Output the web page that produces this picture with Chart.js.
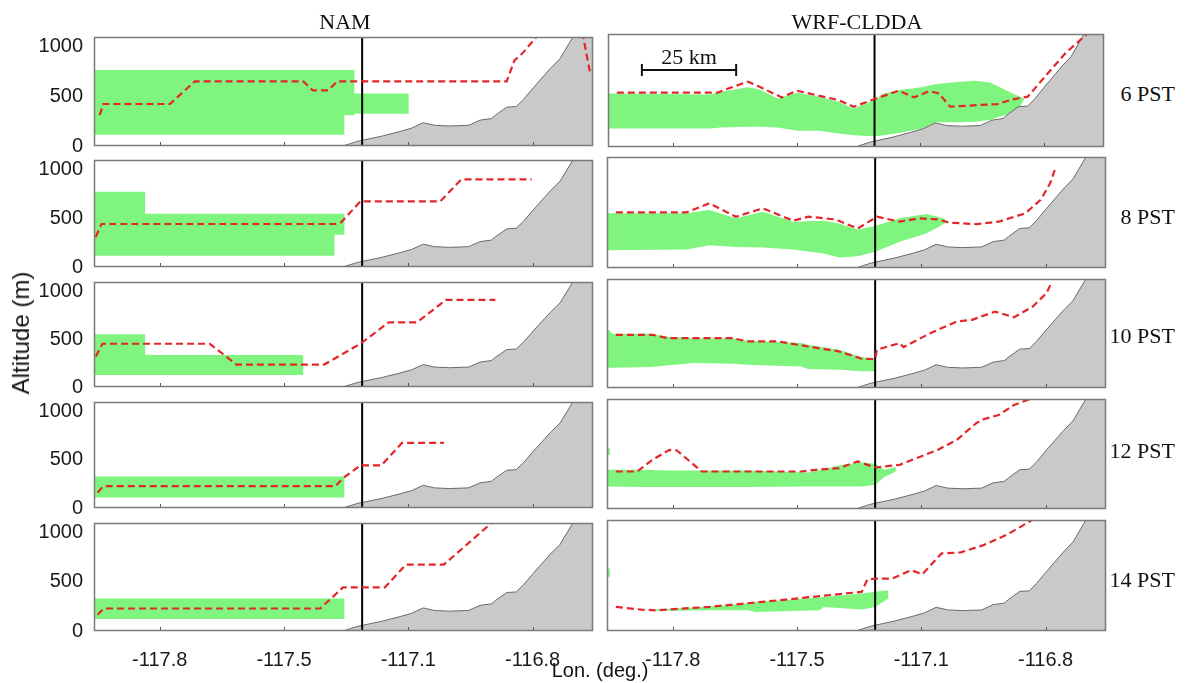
<!DOCTYPE html>
<html><head><meta charset="utf-8">
<script src="https://cdn.jsdelivr.net/npm/chart.js@4.4.0/dist/chart.umd.min.js"></script>
<style>
body{margin:0;background:#fff;width:1193px;height:683px;position:relative;overflow:hidden;font-family:"Liberation Sans",Arial,sans-serif}
canvas{position:absolute}
.lbl{position:absolute;white-space:nowrap;color:#111;line-height:1}
.serif{font-family:"Liberation Serif","Times New Roman",serif;font-size:22px}
</style></head><body>
<script>
// ---------- axes / labels ----------
const xTickValues = [-117.8, -117.45, -117.1, -116.75];
const xTickLabels = ['-117.8', '-117.5', '-117.1', '-116.8'];
const yTickValues = [0, 500, 1000];
const yTickLabels = ['0', '500', '1000'];
const modelNames = ['NAM', 'WRF-CLDDA'];
const timeLabels = ['6 PST', '8 PST', '10 PST', '12 PST', '14 PST'];
const xAxisTitle = 'Lon. (deg.)';
const yAxisTitle = 'Altitude (m)';
const lonRange = [-117.985, -116.58];
const altRange = [0, 1100];
const coastLon = -117.23;
const scaleBarLon = [-117.889, -117.622];
const scaleBarAlt = 750;
const scaleBarLabel = '25 km';

// ---------- terrain (same in all panels) ----------
const terrainLon = [-117.284, -117.262, -117.241, -117.176, -117.123, -117.091, -117.058, -117.026, -116.984, -116.930, -116.898, -116.866, -116.855, -116.823, -116.796, -116.775, -116.748, -116.716, -116.700, -116.673, -116.63, -116.55];
const terrainAlt = [0, 26, 49, 98, 147, 180, 235, 209, 202, 209, 261, 277, 310, 392, 398, 473, 588, 718, 783, 881, 1140, 1140];

// ---------- NAM: inversion-base line (red) ----------
const nam06LineLon = [-117.969, -117.959, -117.771, -117.701, -117.396, -117.369, -117.326, -117.300, -116.823, -116.801, -116.780, -116.737, -116.70, -116.61, -116.588];
const nam06LineAlt = [310, 424, 424, 653, 653, 561, 561, 653, 653, 865, 930, 1110, null, 1150, 734];
const nam08LineLon = [-117.980, -117.964, -117.305, -117.289, -117.235, -117.010, -116.951, -116.753];
const nam08LineAlt = [309, 442, 442, 459, 675, 675, 900, 900];
const nam10LineLon = [-117.980, -117.961, -117.659, -117.584, -117.337, -117.235, -117.155, -117.075, -116.994, -116.855];
const nam10LineAlt = [319, 453, 453, 235, 235, 453, 678, 678, 912, 912];
const nam12LineLon = [-117.975, -117.959, -117.305, -117.284, -117.235, -117.176, -117.118, -117.000];
const nam12LineAlt = [160, 226, 226, 309, 442, 442, 675, 675];
const nam14LineLon = [-117.975, -117.957, -117.348, -117.284, -117.166, -117.107, -117.000, -116.866, -116.85];
const nam14LineAlt = [166, 229, 229, 444, 444, 676, 676, 1100, 1150];

// ---------- NAM: cloud layer (green), step segments ----------
const nam06GreenEdges = [-117.985, -117.280, -117.252, -117.099];
const nam06GreenTop = [767, 767, 529];
const nam06GreenBot = [114, 310, 326];
const nam08GreenEdges = [-117.985, -117.841, -117.308, -117.280];
const nam08GreenTop = [774, 548, 548];
const nam08GreenBot = [116, 116, 332];
const nam10GreenEdges = [-117.985, -117.841, -117.396];
const nam10GreenTop = [553, 335];
const nam10GreenBot = [127, 127];
const nam12GreenEdges = [-117.985, -117.280];
const nam12GreenTop = [326];
const nam12GreenBot = [110];
const nam14GreenEdges = [-117.985, -117.280];
const nam14GreenTop = [331];
const nam14GreenBot = [123];

// ---------- WRF-CLDDA: inversion-base line (red) ----------
const wrf06LineLon = [-117.96, -117.675, -117.643, -117.589, -117.557, -117.493, -117.450, -117.396, -117.332, -117.289, -117.225, -117.161, -117.118, -117.075, -117.048, -117.016, -116.989, -116.882, -116.839, -116.796, -116.743, -116.689, -116.641, -116.625];
const wrf06LineAlt = [529, 529, 571, 636, 588, 483, 548, 506, 457, 392, 473, 548, 483, 545, 522, 392, 398, 418, 463, 490, 702, 914, 1061, 1110];
const wrf08LineLon = [-117.96, -117.761, -117.697, -117.622, -117.546, -117.461, -117.418, -117.343, -117.279, -117.225, -117.161, -117.107, -117.054, -117.021, -116.946, -116.882, -116.807, -116.764, -116.737, -116.721];
const wrf08LineAlt = [552, 552, 641, 508, 591, 469, 508, 482, 392, 508, 459, 492, 482, 449, 435, 459, 542, 675, 841, 1007];
const wrf10LineLon = [-117.96, -117.857, -117.814, -117.632, -117.589, -117.504, -117.418, -117.332, -117.268, -117.230, -117.225, -117.161, -117.150, -117.075, -117.000, -116.957, -116.893, -116.839, -116.786, -116.748, -116.732];
const wrf10LineAlt = [537, 537, 503, 503, 470, 470, 419, 369, 295, 292, 386, 453, 413, 553, 671, 688, 771, 714, 822, 956, 1073];
const wrf12LineLon = [-117.96, -117.900, -117.857, -117.809, -117.788, -117.718, -117.439, -117.397, -117.332, -117.279, -117.230, -117.161, -117.054, -117.000, -116.946, -116.925, -116.882, -116.839, -116.796, -116.775];
const wrf12LineAlt = [375, 375, 492, 591, 585, 375, 375, 392, 409, 475, 415, 442, 591, 691, 857, 897, 940, 1040, 1097, 1156];
const wrf14LineLon = [-117.96, -117.889, -117.847, -117.697, -117.482, -117.268, -117.252, -117.225, -117.182, -117.129, -117.097, -117.043, -116.989, -116.925, -116.861, -116.796, -116.775];
const wrf14LineAlt = [239, 212, 205, 239, 311, 388, 510, 520, 520, 603, 563, 769, 779, 851, 951, 1083, 1133];

// ---------- WRF-CLDDA: cloud layer (green) ----------
const wrf06GreenLon = [-117.985, -117.697, -117.664, -117.589, -117.557, -117.504, -117.450, -117.386, -117.332, -117.289, -117.230, -117.204, -117.161, -117.096, -117.054, -116.989, -116.946, -116.903, -116.882, -116.839, -116.818, -116.807];
const wrf06GreenTop = [522, 512, 539, 581, 561, 473, 529, 490, 441, 375, 457, 522, 555, 581, 614, 636, 646, 627, 594, 522, 490, 473];
const wrf06GreenBot = [180, 180, 189, 196, 196, 189, 157, 157, 131, 114, 104, 114, 137, 180, 240, 240, 245, 262, 290, 330, 390, 457];
const wrf08GreenLon = [-117.985, -117.761, -117.697, -117.622, -117.546, -117.461, -117.375, -117.332, -117.279, -117.230, -117.161, -117.086, -117.054, -117.032];
const wrf08GreenTop = [542, 542, 575, 492, 558, 459, 469, 442, 382, 415, 492, 535, 508, 482];
const wrf08GreenBot = [176, 183, 226, 209, 203, 183, 143, 103, 116, 160, 259, 342, 402, 449];
const wrf10GreenLon = [-117.985, -117.97, -117.857, -117.825, -117.739, -117.632, -117.589, -117.439, -117.418, -117.332, -117.268, -117.227];
const wrf10GreenTop = [604, 548, 548, 520, 503, 503, 476, 453, 436, 386, 312, 292];
const wrf10GreenBot = [201, 205, 211, 225, 252, 245, 235, 218, 191, 184, 168, 168];
const wrf12GreenLon = [-117.985, -117.889, -117.804, -117.589, -117.418, -117.322, -117.268, -117.230, -117.204, -117.172];
const wrf12GreenTop = [392, 392, 385, 385, 366, 442, 465, 452, 392, 419];
const wrf12GreenBot = [226, 219, 219, 219, 226, 226, 226, 243, 319, 375];
const wrf12SpeckLon = [-117.985, -117.977];
const wrf12SpeckTop = [607, 607];
const wrf12SpeckBot = [541, 541];
const wrf14GreenLon = [-117.847, -117.718, -117.589, -117.568, -117.386, -117.375, -117.268, -117.230, -117.193];
const wrf14GreenTop = [212, 239, 272, 288, 331, 338, 371, 388, 404];
const wrf14GreenBot = [199, 205, 205, 189, 205, 239, 212, 239, 321];
const wrf14SpeckLon = [-117.985, -117.977];
const wrf14SpeckTop = [619, 619];
const wrf14SpeckBot = [537, 537];

// ---------- layout ----------
const colPlotLeft = [94, 607];
const colCanvasLeft = [0, 600];
const plotWidth = 499;
const rowPlotTop = [34, 157, 279, 399, 520];
const rowPlotHeight = [113, 111, 109, 110, 111];

const GREEN = '#7ff57f', RED = '#e3262a', TERRAIN = '#c9c9c9';

function linePoints(lon, alt) { return lon.map((x, i) => ({x, y: alt[i]})); }
function stepPolygon(edges, top, bot) {
  const pts = [];
  for (let i = 0; i < top.length; i++) { pts.push({x: edges[i], y: top[i]}, {x: edges[i + 1], y: top[i]}); }
  for (let i = bot.length - 1; i >= 0; i--) { pts.push({x: edges[i + 1], y: bot[i]}, {x: edges[i], y: bot[i]}); }
  pts.push({...pts[0]});
  return pts;
}
function bandPolygon(lon, top, bot) {
  const pts = lon.map((x, i) => ({x, y: top[i]}));
  for (let i = lon.length - 1; i >= 0; i--) pts.push({x: lon[i], y: bot[i]});
  pts.push({...pts[0]});
  return pts;
}

const panels = [
  {r: 0, c: 0, line: [nam06LineLon, nam06LineAlt], green: [stepPolygon(nam06GreenEdges, nam06GreenTop, nam06GreenBot)]},
  {r: 1, c: 0, line: [nam08LineLon, nam08LineAlt], green: [stepPolygon(nam08GreenEdges, nam08GreenTop, nam08GreenBot)]},
  {r: 2, c: 0, line: [nam10LineLon, nam10LineAlt], green: [stepPolygon(nam10GreenEdges, nam10GreenTop, nam10GreenBot)]},
  {r: 3, c: 0, line: [nam12LineLon, nam12LineAlt], green: [stepPolygon(nam12GreenEdges, nam12GreenTop, nam12GreenBot)]},
  {r: 4, c: 0, line: [nam14LineLon, nam14LineAlt], green: [stepPolygon(nam14GreenEdges, nam14GreenTop, nam14GreenBot)]},
  {r: 0, c: 1, line: [wrf06LineLon, wrf06LineAlt], green: [bandPolygon(wrf06GreenLon, wrf06GreenTop, wrf06GreenBot)], scaleBar: true},
  {r: 1, c: 1, line: [wrf08LineLon, wrf08LineAlt], green: [bandPolygon(wrf08GreenLon, wrf08GreenTop, wrf08GreenBot)]},
  {r: 2, c: 1, line: [wrf10LineLon, wrf10LineAlt], green: [bandPolygon(wrf10GreenLon, wrf10GreenTop, wrf10GreenBot)]},
  {r: 3, c: 1, line: [wrf12LineLon, wrf12LineAlt], green: [bandPolygon(wrf12GreenLon, wrf12GreenTop, wrf12GreenBot), bandPolygon(wrf12SpeckLon, wrf12SpeckTop, wrf12SpeckBot)]},
  {r: 4, c: 1, line: [wrf14LineLon, wrf14LineAlt], green: [bandPolygon(wrf14GreenLon, wrf14GreenTop, wrf14GreenBot), bandPolygon(wrf14SpeckLon, wrf14SpeckTop, wrf14SpeckBot)]},
];

const framePlugin = {
  id: 'frame',
  afterDatasetsDraw(chart) {
    const {ctx, chartArea: a, scales} = chart;
    ctx.save();
    ctx.strokeStyle = '#555'; ctx.lineWidth = 1;
    for (const v of xTickValues) {
      const px = Math.round(scales.x.getPixelForValue(v)) + 0.5;
      ctx.beginPath(); ctx.moveTo(px, a.bottom); ctx.lineTo(px, a.bottom - 4); ctx.stroke();
    }
    ctx.strokeStyle = '#7a7a7a'; ctx.lineWidth = 1.5;
    ctx.strokeRect(a.left + 0.5, a.top + 0.5, a.right - a.left - 1, a.bottom - a.top - 1);
    const sb = chart.options.plugins.frame && chart.options.plugins.frame.scaleBarText;
    if (sb) {
      const x = (scales.x.getPixelForValue(scaleBarLon[0]) + scales.x.getPixelForValue(scaleBarLon[1])) / 2;
      const y = scales.y.getPixelForValue(scaleBarAlt);
      ctx.fillStyle = '#111';
      ctx.font = '22px "Liberation Serif", "Times New Roman", serif';
      ctx.textAlign = 'center'; ctx.textBaseline = 'alphabetic';
      ctx.fillText(sb, x, y - 6);
    }
    ctx.restore();
  }
};

panels.forEach(p => {
  const padTop = 12;
  const xAxisH = p.r === 4 ? 40 : 14;
  const yAxisW = colPlotLeft[p.c] - colCanvasLeft[p.c];
  const w = yAxisW + plotWidth + 6;
  const h = padTop + rowPlotHeight[p.r] + xAxisH;
  const cv = document.createElement('canvas');
  cv.width = w; cv.height = h;
  cv.style.left = colCanvasLeft[p.c] + 'px';
  cv.style.top = (rowPlotTop[p.r] - padTop) + 'px';
  cv.style.width = w + 'px'; cv.style.height = h + 'px';
  document.body.appendChild(cv);

  const datasets = [];
  datasets.push({data: linePoints(p.line[0], p.line[1]), borderColor: RED, borderWidth: 2.2, borderDash: [7, 4], pointRadius: 0, fill: false, spanGaps: false, order: 0});
  if (p.scaleBar) {
    datasets.push({data: scaleBarLon.map(x => ({x, y: scaleBarAlt})), borderColor: '#111', borderWidth: 2, pointStyle: 'line', pointRotation: 90, pointRadius: 6, pointBorderWidth: 2, pointBorderColor: '#111', fill: false, order: 1});
  }
  datasets.push({data: [{x: coastLon, y: altRange[0]}, {x: coastLon, y: altRange[1] + 50}], borderColor: '#000', borderWidth: 2, pointRadius: 0, fill: false, order: 2});
  datasets.push({data: linePoints(terrainLon, terrainAlt), borderColor: '#6a6a6a', borderWidth: 1, backgroundColor: TERRAIN, pointRadius: 0, fill: 'origin', order: 3});
  p.green.forEach(poly => datasets.push({data: poly, borderWidth: 0, borderColor: 'rgba(0,0,0,0)', backgroundColor: GREEN, pointRadius: 0, fill: 'shape', order: 4}));

  new Chart(cv, {
    type: 'line',
    data: {datasets},
    options: {
      responsive: false, animation: false, devicePixelRatio: 1,
      layout: {padding: {top: padTop, right: 6, left: 0, bottom: 0}},
      elements: {line: {tension: 0}},
      plugins: {legend: {display: false}, tooltip: {enabled: false}, frame: {scaleBarText: p.scaleBar ? scaleBarLabel : null}},
      scales: {
        x: {
          type: 'linear', min: lonRange[0], max: lonRange[1],
          grid: {display: false}, border: {display: false},
          afterBuildTicks: s => { s.ticks = xTickValues.map(v => ({value: v})); },
          afterFit: s => { s.height = xAxisH; },
          ticks: {display: p.r === 4, autoSkip: false, maxRotation: 0, padding: 9, color: '#1a1a1a',
            font: {family: '"Liberation Sans", Arial, sans-serif', size: 20},
            callback: (v, i) => xTickLabels[i]}
        },
        y: {
          type: 'linear', min: altRange[0], max: altRange[1],
          grid: {display: false}, border: {display: false},
          afterBuildTicks: s => { s.ticks = yTickValues.map(v => ({value: v})); },
          afterFit: s => { s.width = yAxisW; },
          ticks: {display: p.c === 0, padding: 3, color: '#1a1a1a',
            font: {family: '"Liberation Sans", Arial, sans-serif', size: 20},
            callback: (v, i) => yTickLabels[i]}
        }
      }
    },
    plugins: [framePlugin]
  });
});

// ---------- text labels ----------
function addLabel(text, cls, css) {
  const d = document.createElement('div');
  d.className = 'lbl ' + cls; d.textContent = text;
  Object.assign(d.style, css);
  document.body.appendChild(d);
  return d;
}
const titleCenters = [345, 857];
modelNames.forEach((t, i) => addLabel(t, 'serif', {left: titleCenters[i] + 'px', top: '22px', transform: 'translate(-50%,-50%)'}));
const timeCenters = [94, 217, 336, 451, 580];
timeLabels.forEach((t, i) => addLabel(t, 'serif', {right: (1193 - 1175) + 'px', top: timeCenters[i] + 'px', transform: 'translateY(-50%)'}));
addLabel(xAxisTitle, '', {left: '600px', top: '670px', fontSize: '20px', transform: 'translate(-50%,-50%)'});
addLabel(yAxisTitle, '', {left: '21px', top: '333px', fontSize: '24px', transform: 'translate(-50%,-50%) rotate(-90deg)'});
</script>
</body></html>
